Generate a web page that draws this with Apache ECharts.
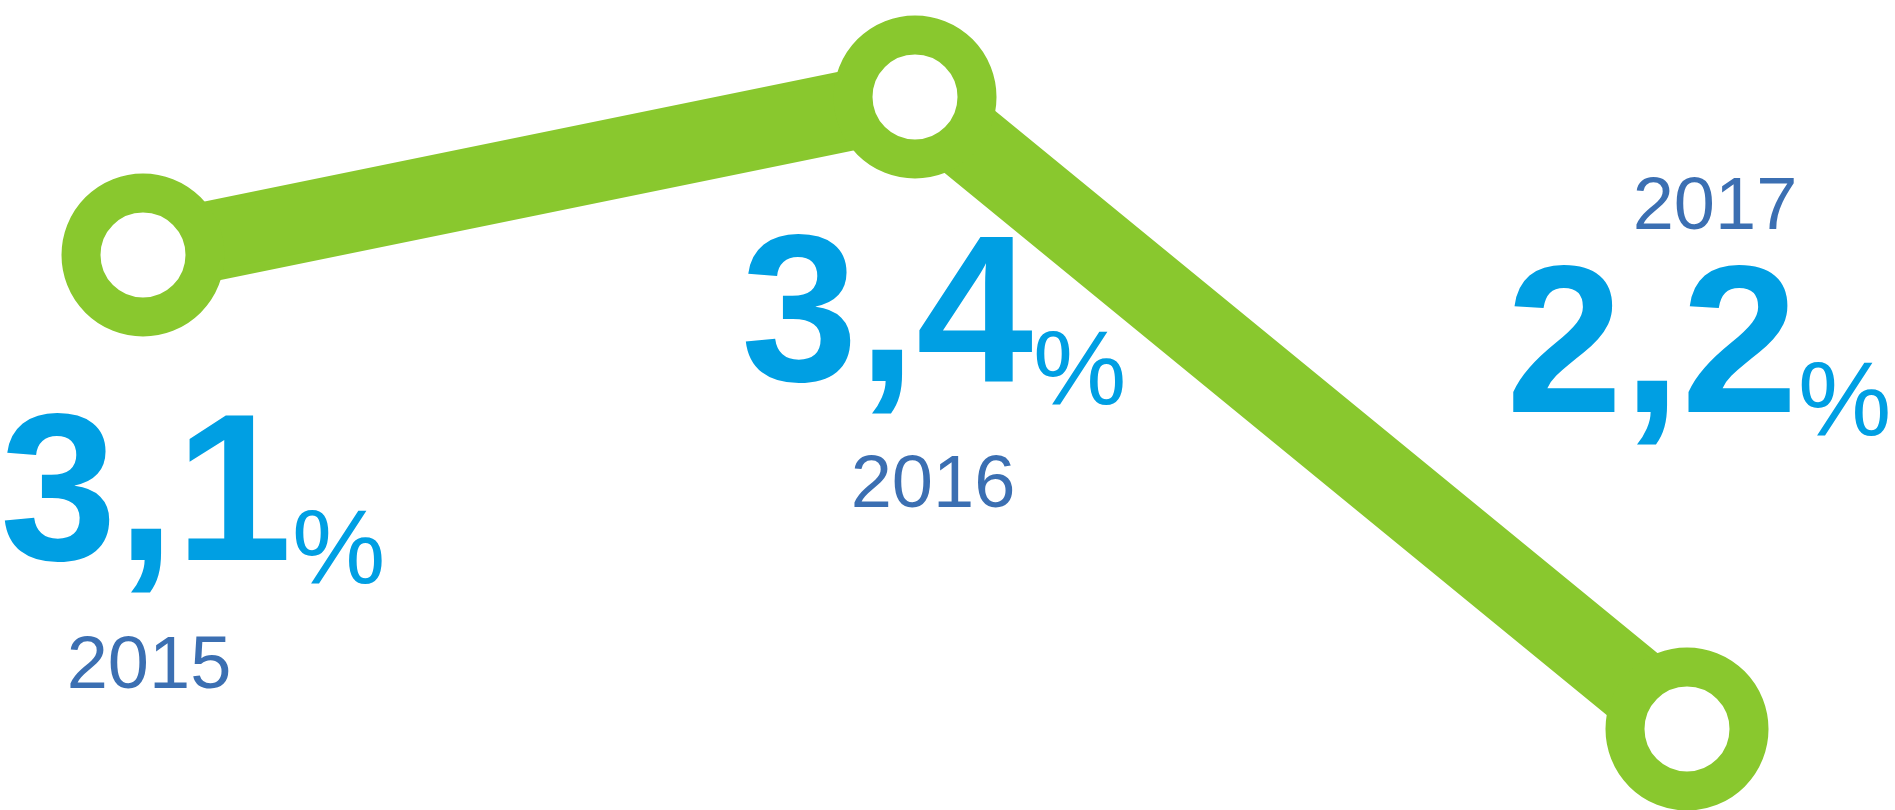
<!DOCTYPE html>
<html>
<head>
<meta charset="utf-8">
<title>Rates 2015-2017</title>
<script src="https://cdn.jsdelivr.net/npm/echarts@6/dist/echarts.min.js"></script>
<style>
  html, body { margin: 0; padding: 0; background: #fff; }
  #chart { width: 1895px; height: 810px; }
</style>
</head>
<body>
<div id="chart"></div>
<script>
// data
var years = ['2015', '2016', '2017']
var rates = [3.1, 3.4, 2.2]

var green = '#89c82e'
var blue = '#009fe3'
var navy = '#0a4b9f'

// where each label sits relative to its point (px)
var rateOffsets = [[-143, 142], [-174, 121], [-181, -480]]
var yearOffsets = [[6, 376], [18, 353], [28, -557]]

var chart = echarts.init(document.getElementById('chart'))

var rateData = rates.map(function (v, i) {
    return {
        value: v,
        label: { offset: rateOffsets[i] }
    }
})
var yearData = rates.map(function (v, i) {
    return {
        value: v,
        label: { offset: yearOffsets[i] }
    }
})

var option = {
    animation: false,
    backgroundColor: '#fff',
    grid: { left: 143, right: 208, top: 97, bottom: 81 },
    xAxis: {
        type: 'category',
        boundaryGap: false,
        data: years,
        show: false
    },
    yAxis: {
        type: 'value',
        min: 2.2,
        max: 3.4,
        show: false
    },
    series: [{
        name: 'rate',
        type: 'line',
        data: rateData,
        z: 2,
        symbol: 'circle',
        symbolSize: 124,
        lineStyle: { color: green, width: 80, cap: 'butt', join: 'round' },
        itemStyle: { color: '#fff', borderColor: green, borderWidth: 39 },
        label: {
            show: true,
            position: 'inside',
            align: 'left',
            verticalAlign: 'top',
            formatter: function (p) {
                return '{num|' + String(p.value).replace('.', ',') + '}{pct|%}'
            },
            rich: {
                num: {
                    fontFamily: 'Liberation Sans, Arial, sans-serif',
                    fontWeight: 'bold',
                    fontSize: 210,
                    lineHeight: 210,
                    color: blue,
                    verticalAlign: 'bottom'
                },
                pct: {
                    fontFamily: 'Liberation Sans, Arial, sans-serif',
                    fontSize: 105,
                    lineHeight: 134,
                    color: blue,
                    verticalAlign: 'bottom'
                }
            }
        }
    }, {
        name: 'year',
        type: 'scatter',
        data: yearData,
        z: 3,
        symbolSize: 1,
        itemStyle: { color: 'rgba(0,0,0,0)' },
        label: {
            show: true,
            position: 'inside',
            align: 'center',
            verticalAlign: 'top',
            formatter: function (p) { return years[p.dataIndex] },
            fontFamily: 'Liberation Sans, Arial, sans-serif',
            fontSize: 74,
            lineHeight: 74,
            color: navy
        }
    }]
}

chart.setOption(option)
</script>
</body>
</html>
